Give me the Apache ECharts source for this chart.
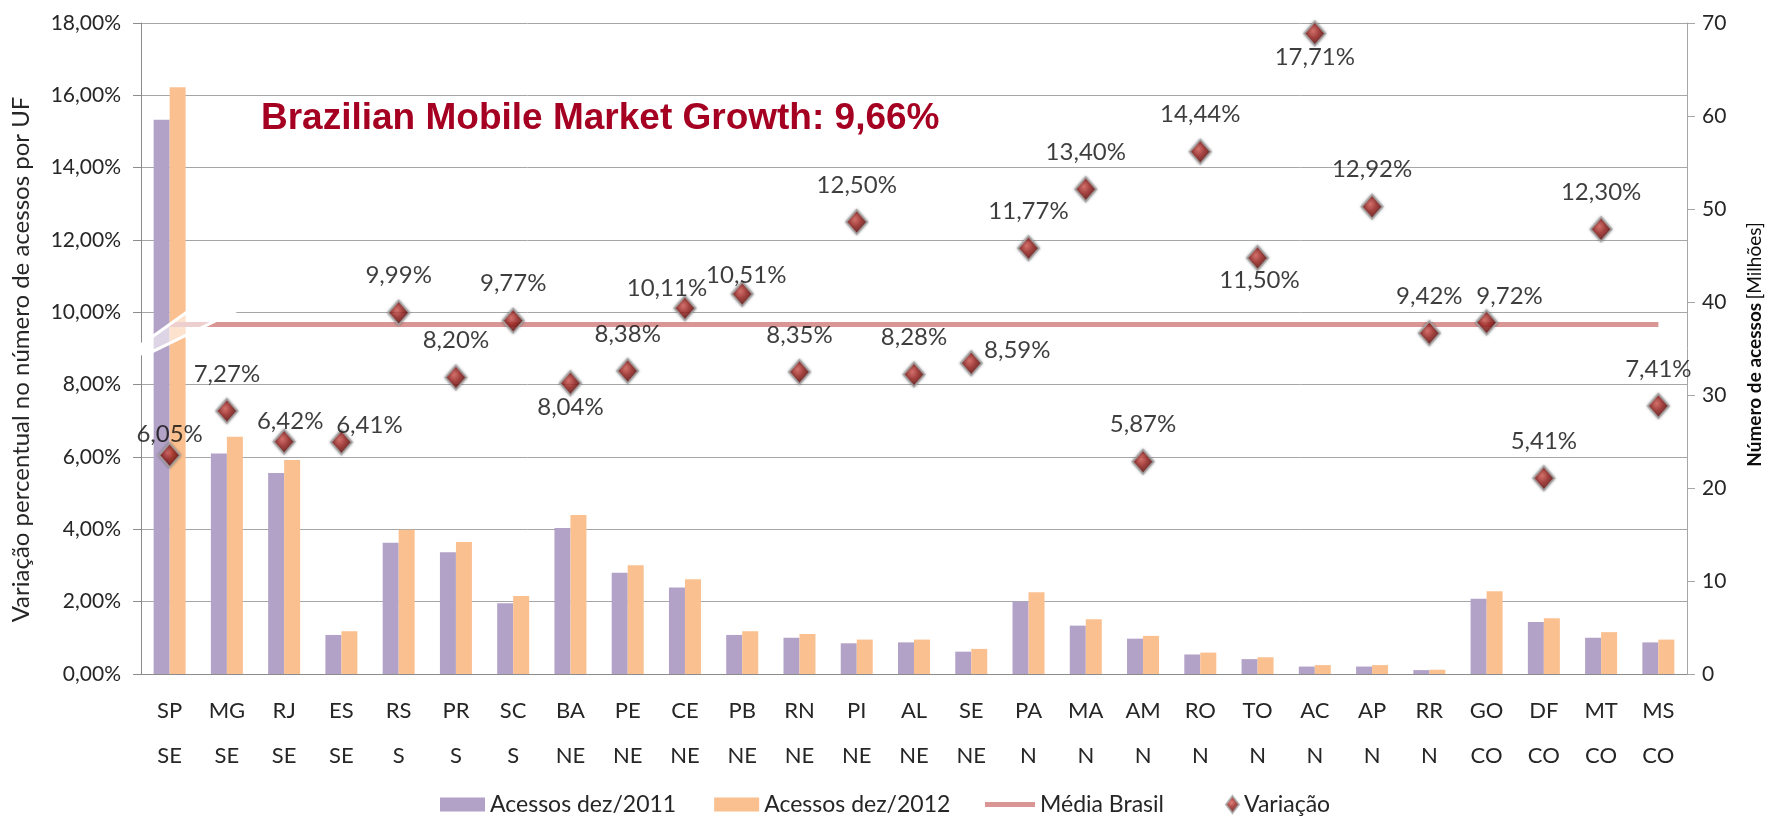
<!DOCTYPE html>
<html>
<head>
<meta charset="utf-8">
<title>Variação de acessos por UF</title>
<script src="https://cdn.jsdelivr.net/npm/echarts@6/dist/echarts.min.js"></script>
<style>
  html, body { margin: 0; padding: 0; background: #fff; }
  #chart { width: 1773px; height: 816px; }
</style>
</head>
<body>
<div id="chart"></div>
<script>
// UF e região (eixo de categorias em dois níveis)
const ufs = ['SP', 'MG', 'RJ', 'ES', 'RS', 'PR', 'SC', 'BA', 'PE', 'CE', 'PB', 'RN', 'PI', 'AL', 'SE',
  'PA', 'MA', 'AM', 'RO', 'TO', 'AC', 'AP', 'RR', 'GO', 'DF', 'MT', 'MS'];
const regioes = ['SE', 'SE', 'SE', 'SE', 'S', 'S', 'S', 'NE', 'NE', 'NE', 'NE', 'NE', 'NE', 'NE', 'NE',
  'N', 'N', 'N', 'N', 'N', 'N', 'N', 'N', 'CO', 'CO', 'CO', 'CO'];

// acessos em milhões (eixo direito)
const acessos2011 = [59.6, 23.7, 21.6, 4.2, 14.1, 13.1, 7.6, 15.7, 10.9, 9.3, 4.2, 3.9, 3.3, 3.4, 2.4,
  7.8, 5.2, 3.8, 2.1, 1.6, 0.8, 0.8, 0.42, 8.1, 5.6, 3.9, 3.4];
const acessos2012 = [63.1, 25.5, 23.0, 4.6, 15.5, 14.2, 8.4, 17.1, 11.7, 10.2, 4.6, 4.3, 3.7, 3.7, 2.7,
  8.8, 5.9, 4.1, 2.3, 1.8, 0.96, 0.96, 0.46, 8.9, 6.0, 4.5, 3.7];

// variação percentual por UF (eixo esquerdo)
const variacao = [6.05, 7.27, 6.42, 6.41, 9.99, 8.20, 9.77, 8.04, 8.38, 10.11, 10.51, 8.35, 12.50, 8.28, 8.59,
  11.77, 13.40, 5.87, 14.44, 11.50, 17.71, 12.92, 9.42, 9.72, 5.41, 12.30, 7.41];
const mediaBrasil = 9.66;

// onde fica o rótulo de cada losango [dx, dy]; o padrão é acima
const rotuloPadrao = [0, -37];
const rotuloAjuste = {
  SP: [0, -21], RJ: [6, -21], ES: [28, -17], BA: [0, 24], CE: [-18, -20], PB: [4, -19],
  SE: [46, -13], TO: [2, 22], AC: [0, 24], GO: [23, -26]
};

const fonte = 'Lato';
const corTexto = '#262626';
const pct = v => v.toFixed(2).replace('.', ',') + '%';
const textoLegenda = { fontFamily: fonte, fontSize: 23, color: corTexto };

const chart = echarts.init(document.getElementById('chart'));

chart.setOption({
  backgroundColor: '#fff',
  animation: false,
  title: {
    text: 'Brazilian Mobile Market Growth: ' + pct(mediaBrasil),
    left: 256,
    top: 95,
    textStyle: { fontFamily: 'Liberation Sans', fontWeight: 'bold', fontSize: 37, color: '#A50021' }
  },
  grid: { left: 141, right: 86, top: 23, bottom: 142, containLabel: false, outerBoundsMode: 'none' },
  legend: [
    {
      left: 435,
      top: 788,
      itemWidth: 45,
      itemHeight: 14,
      itemGap: 38,
      textStyle: textoLegenda,
      data: [
        { name: 'Acessos dez/2011', icon: 'rect' },
        { name: 'Acessos dez/2012', icon: 'rect' }
      ]
    },
    {
      left: 980,
      top: 788,
      itemWidth: 50,
      itemHeight: 5,
      textStyle: textoLegenda,
      data: [{ name: 'Média Brasil', icon: 'rect' }]
    },
    {
      left: 1220,
      top: 788,
      itemWidth: 13,
      itemHeight: 17,
      symbolKeepAspect: false,
      textStyle: textoLegenda,
      data: [{ name: 'Variação', icon: 'diamond' }]
    }
  ],
  xAxis: {
    type: 'category',
    data: ufs,
    axisLine: { lineStyle: { color: '#8c8c8c' } },
    axisTick: { interval: 0, length: 94, lineStyle: { color: '#8c8c8c' } },
    axisLabel: {
      interval: 0,
      margin: 14,
      lineHeight: 45,
      fontFamily: fonte,
      fontSize: 22,
      color: corTexto,
      formatter: (v, i) => v + '\n' + regioes[i]
    }
  },
  yAxis: [
    {
      type: 'value',
      min: 0,
      max: 18,
      interval: 2,
      position: 'left',
      name: 'Variação percentual no número de acessos por UF',
      nameLocation: 'middle',
      nameGap: 108,
      nameTextStyle: { fontFamily: fonte, fontSize: 24, color: corTexto, padding: [0, 22, 0, 0] },
      axisLine: { show: true, lineStyle: { color: '#8c8c8c' } },
      axisTick: { show: true, length: 8, lineStyle: { color: '#8c8c8c' } },
      axisLabel: { margin: 20, fontFamily: fonte, fontSize: 21, color: corTexto, formatter: pct },
      splitLine: { show: true, lineStyle: { color: '#a6a6a6', width: 1 } }
    },
    {
      type: 'value',
      min: 0,
      max: 70,
      interval: 10,
      position: 'right',
      name: '{b|Número de acessos} {n|[Milhões]}',
      nameLocation: 'middle',
      nameGap: 58,
      nameTextStyle: {
        padding: [0, 0, 0, 8],
        rich: {
          b: { fontFamily: fonte, fontSize: 19, fontWeight: 'bold', color: '#0d0d0d' },
          n: { fontFamily: fonte, fontSize: 19, color: '#0d0d0d' }
        }
      },
      axisLine: { show: true, lineStyle: { color: '#a6a6a6' } },
      axisTick: { show: true, length: 8, lineStyle: { color: '#a6a6a6' } },
      axisLabel: { margin: 15, fontFamily: fonte, fontSize: 21, color: corTexto },
      splitLine: { show: false }
    }
  ],
  series: [
    {
      name: 'Acessos dez/2011',
      type: 'bar',
      yAxisIndex: 1,
      barWidth: 16,
      barGap: '0%',
      itemStyle: { color: '#B3A2C7' },
      data: acessos2011
    },
    {
      name: 'Acessos dez/2012',
      type: 'bar',
      yAxisIndex: 1,
      barWidth: 16,
      barGap: '0%',
      itemStyle: { color: '#FAC090' },
      data: acessos2012
    },
    {
      name: 'Média Brasil',
      type: 'line',
      yAxisIndex: 0,
      symbol: 'none',
      z: 3,
      lineStyle: { color: '#D99694', width: 5 },
      itemStyle: { color: '#D99694' },
      data: [],
      markLine: {
        silent: true,
        symbol: ['none', 'none'],
        label: { show: false },
        lineStyle: { color: '#D99694', width: 5, type: 'solid' },
        data: [[{ coord: [ufs[0], mediaBrasil] }, { coord: [ufs[ufs.length - 1], mediaBrasil] }]]
      }
    },
    {
      name: 'Variação',
      type: 'scatter',
      yAxisIndex: 0,
      z: 5,
      symbol: 'diamond',
      symbolSize: [21, 24],
      itemStyle: {
        color: {
          type: 'radial', x: 0.42, y: 0.4, r: 0.6,
          colorStops: [
            { offset: 0, color: '#D95F58' },
            { offset: 0.45, color: '#9C2320' },
            { offset: 1, color: '#5A0C0A' }
          ]
        },
        borderColor: '#a8a8a8',
        borderWidth: 2,
        shadowBlur: 3,
        shadowColor: 'rgba(0,0,0,0.35)'
      },
      label: {
        show: true,
        position: 'inside',
        align: 'center',
        verticalAlign: 'middle',
        fontFamily: fonte,
        fontSize: 24,
        color: '#0d0d0d',
        formatter: p => pct(p.value)
      },
      data: variacao.map((v, i) => ({
        value: v,
        label: { offset: rotuloAjuste[ufs[i]] || rotuloPadrao }
      }))
    }
  ]
});

// quebra de eixo desenhada sobre as barras de SP
const [xSP, y10] = chart.convertToPixel({ xAxisIndex: 0, yAxisIndex: 0 }, [ufs[0], 10]);
const xMG = chart.convertToPixel({ xAxisIndex: 0 }, ufs[1]);
const x0 = xSP - (xMG - xSP) / 2;
chart.setOption({
  graphic: [
    {
      type: 'polygon',
      z: 20,
      shape: { points: [[x0 - 2, y10 + 34], [x0 + 47, y10 - 1], [x0 + 92, y10], [x0 + 12, y10 + 39]] },
      style: { fill: 'rgba(255,255,255,0.55)', stroke: '#fff', lineWidth: 3 }
    },
    {
      type: 'rect',
      z: 20,
      shape: { x: x0 - 4, y: y10 + 31, width: 10, height: 12 },
      style: { fill: '#fff' }
    }
  ]
});
</script>
</body>
</html>
